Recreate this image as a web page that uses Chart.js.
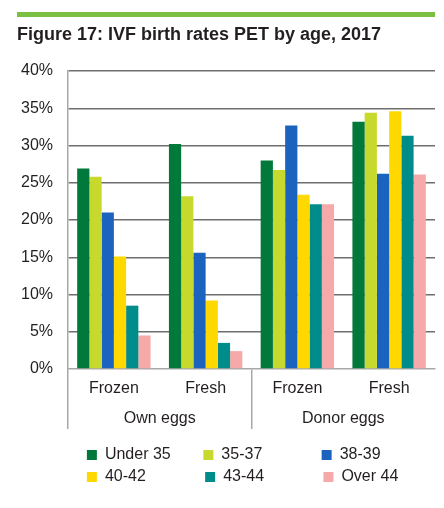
<!DOCTYPE html>
<html>
<head>
<meta charset="utf-8">
<script src="https://cdn.jsdelivr.net/npm/chart.js@4"></script>
<style>
  html, body { margin: 0; padding: 0; background: #fff; }
  #wrap { position: relative; width: 444px; height: 508px; }
  #topbar { position: absolute; left: 17px; top: 12px; width: 418px; height: 5px; background: #7ac143; }
</style>
</head>
<body>
<div id="wrap">
  <div id="topbar"></div>
  <canvas id="c" width="444" height="508"></canvas>
</div>
<script>
// ---- data ----
const categories = ['Frozen', 'Fresh', 'Frozen', 'Fresh'];
const groups = ['Own eggs', 'Donor eggs'];
const seriesNames = ['Under 35', '35-37', '38-39', '40-42', '43-44', 'Over 44'];
const under35 = [26.9, 30.2, 28.0, 33.2];
const age35to37 = [25.8, 23.2, 26.7, 34.4];
const age38to39 = [21.0, 15.6, 32.7, 26.2];
const age40to42 = [15.1, 9.2, 23.4, 34.6];
const age43to44 = [8.5, 3.5, 22.1, 31.3];
const over44 = [4.5, 2.4, 22.1, 26.1];
const yTicks = [0, 5, 10, 15, 20, 25, 30, 35, 40];
const titleText = 'Figure 17: IVF birth rates PET by age, 2017';

// ---- styles ----
const colors = ['#00793a', '#c8d92e', '#1c63c0', '#ffd800', '#008c8a', '#f5a9a8'];
const FONT = '"Liberation Sans", Arial, Helvetica, sans-serif';
const TEXT = '#231f20';
const values = [under35, age35to37, age38to39, age40to42, age43to44, over44];

const measureCtx = document.createElement('canvas').getContext('2d');
measureCtx.font = '16px ' + FONT;
const colTargets = [94, 95, 75];
function padText(t, target) {
  let s = t;
  while (measureCtx.measureText(s + ' ').width <= target + 2) s += ' ';
  return s;
}

new Chart(document.getElementById('c'), {
  type: 'bar',
  data: {
    labels: categories,
    datasets: seriesNames.map((n, i) => ({
      label: n,
      data: values[i],
      backgroundColor: colors[i],
      borderWidth: 0,
      categoryPercentage: 0.8,
      barPercentage: 1.0,
      xAxisID: 'x'
    }))
  },
  options: {
    responsive: false,
    animation: false,
    layout: { padding: { left: 17, right: 9, top: 0, bottom: 13 } },
    plugins: {
      tooltip: { enabled: false },
      title: {
        display: true,
        text: titleText,
        align: 'start',
        color: TEXT,
        font: { family: FONT, size: 18, weight: 'bold' },
        padding: { top: 24.7, bottom: 24.7 }
      },
      legend: {
        position: 'bottom',
        align: 'center',
        fullSize: false,
        labels: {
          boxWidth: 10,
          boxHeight: 10,
          padding: 6,
          color: TEXT,
          font: { family: FONT, size: 16 },
          generateLabels: (chart) => {
            const items = Chart.defaults.plugins.legend.labels.generateLabels(chart);
            items.forEach((it, i) => {
              it.text = padText(it.text, colTargets[i % 3]);
              it.lineWidth = 0;
            });
            return items;
          }
        }
      }
    },
    scales: {
      y: {
        min: 0,
        max: 40,
        afterBuildTicks: (scale) => { scale.ticks = yTicks.map(v => ({ value: v })); },
        afterFit: (scale) => { scale.width = 51; },
        ticks: {
          padding: 15,
          color: TEXT,
          font: { family: FONT, size: 16 },
          callback: (v) => v + '%'
        },
        grid: {
          drawTicks: false,
          color: (ctx) => ctx.tick && ctx.tick.value === 0 ? 'rgba(0,0,0,0)' : '#6e6e6e',
          lineWidth: 1.5
        },
        border: { color: '#a8a8a8', width: 1.5 }
      },
      x: {
        type: 'category',
        position: 'bottom',
        weight: 0,
        offset: true,
        afterFit: (scale) => { scale.height = 30; },
        ticks: {
          autoSkip: false,
          maxRotation: 0,
          padding: -50,
          color: TEXT,
          font: { family: FONT, size: 16 }
        },
        grid: {
          offset: true,
          drawOnChartArea: false,
          drawTicks: true,
          tickLength: 60,
          lineWidth: 1.5,
          color: (ctx) => (ctx.index % 2 === 0) ? '#a8a8a8' : 'rgba(0,0,0,0)'
        },
        border: { color: '#a8a8a8', width: 1.5 }
      },
      x2: {
        type: 'category',
        position: 'bottom',
        weight: 1,
        labels: groups,
        offset: true,
        afterFit: (scale) => { scale.height = 42; },
        ticks: {
          autoSkip: false,
          maxRotation: 0,
          padding: 10.4,
          color: TEXT,
          font: { family: FONT, size: 16 }
        },
        grid: { display: false, drawTicks: false },
        border: { display: false }
      }
    }
  }
});
</script>
</body>
</html>
